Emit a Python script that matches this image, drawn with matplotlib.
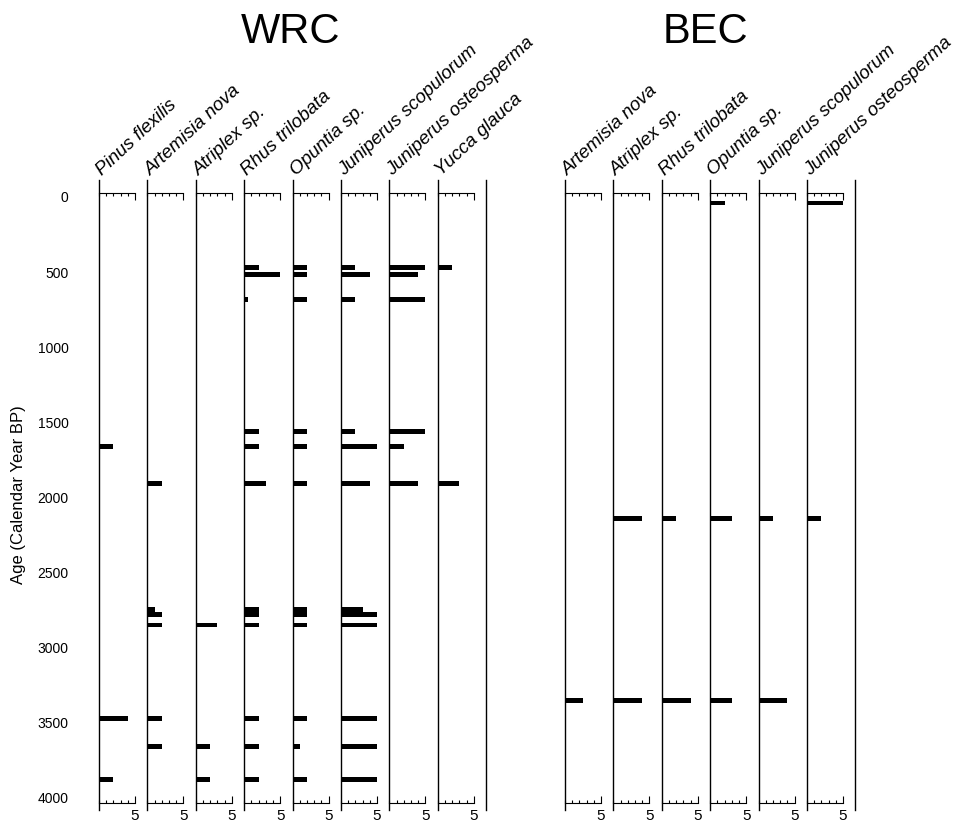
import matplotlib.pyplot as plt

plt.rcParams['font.family'] = ['Liberation Sans', 'DejaVu Sans']

# ---- data: ages (cal yr BP) and abundance for each taxon ----
wrc_taxa = ['Pinus flexilis', 'Artemisia nova', 'Atriplex sp.', 'Rhus trilobata',
            'Opuntia sp.', 'Juniperus scopulorum', 'Juniperus osteosperma', 'Yucca glauca']
wrc_ages = [
    [1660, 3470, 3880],
    [1910, 2745, 2778, 2850, 3470, 3660],
    [2850, 3660, 3880],
    [470, 515, 680, 1560, 1660, 1910, 2745, 2778, 2850, 3470, 3660, 3880],
    [470, 515, 680, 1560, 1660, 1910, 2745, 2778, 2850, 3470, 3660, 3880],
    [470, 515, 680, 1560, 1660, 1910, 2745, 2778, 2850, 3470, 3660, 3880],
    [470, 515, 680, 1560, 1660, 1910],
    [470, 1910],
]
wrc_counts = [
    [2, 4, 2],
    [2, 1, 2, 2, 2, 2],
    [3, 2, 2],
    [2, 5, 0.5, 2, 2, 3, 2, 2, 2, 2, 2, 2],
    [2, 2, 2, 2, 2, 2, 2, 2, 2, 2, 1, 2],
    [2, 4, 2, 2, 5, 4, 3, 5, 5, 5, 5, 5],
    [5, 4, 5, 5, 2, 4],
    [2, 3],
]

bec_taxa = ['Artemisia nova', 'Atriplex sp.', 'Rhus trilobata', 'Opuntia sp.',
            'Juniperus scopulorum', 'Juniperus osteosperma']
bec_ages = [
    [3350],
    [2140, 3350],
    [2140, 3350],
    [40, 2140, 3350],
    [2140, 3350],
    [40, 2140],
]
bec_counts = [
    [2.5],
    [4, 4],
    [2, 4],
    [2, 3, 3],
    [2, 4],
    [5, 2],
]

age_ticks = [0, 500, 1000, 1500, 2000, 2500, 3000, 3500, 4000]

# ---- layout (pixels of a 977x832 figure) ----
W, H = 977, 832
fig = plt.figure(figsize=(W / 100, H / 100), dpi=100)

panel_w = 48.4
px_per_unit = 7.2
top_px, bot_px = 180, 810
y_top, y_bot = -113, 4081


def draw_group(left_px, taxa, ages, counts, title, title_x, show_y):
    n = len(taxa)
    for i in range(n):
        x0 = left_px + i * panel_w
        ax = fig.add_axes([x0 / W, (H - bot_px) / H, panel_w / W, (bot_px - top_px) / H])
        ax.barh(ages[i], counts[i], height=32, left=0, color='black')
        ax.set_xlim(0, panel_w / px_per_unit)
        ax.set_ylim(y_bot, y_top)
        ax.patch.set_alpha(0)

        ax.spines['left'].set_linewidth(1.0)
        ax.spines['right'].set_visible(i == n - 1)
        ax.spines['right'].set_linewidth(1.0)
        for side, pos in (('top', -28), ('bottom', 4035)):
            ax.spines[side].set_position(('data', pos))
            ax.spines[side].set_bounds(0, 5)
            ax.spines[side].set_linewidth(0.8)

        ax.set_xticks([5])
        ax.set_xticks([0, 1, 2, 3, 4], minor=True)
        ax.tick_params(axis='x', which='both', direction='in', top=True, bottom=True,
                       labeltop=False, width=0.8, labelsize=11, pad=4)
        ax.tick_params(axis='x', which='major', length=5)
        ax.tick_params(axis='x', which='minor', length=2.5)

        if show_y and i == 0:
            ax.set_yticks(age_ticks)
            ax.tick_params(axis='y', length=0, pad=22, labelsize=10)
            ax.set_ylabel('Age (Calendar Year BP)', fontsize=12, labelpad=8)
        else:
            ax.set_yticks([])

        fig.text((x0 + 6) / W, (H - 179) / H, taxa[i], rotation=43, style='italic',
                 fontsize=13.5, ha='left', va='bottom', rotation_mode='anchor')

    fig.text(title_x / W, (H - 32) / H, title, fontsize=30, ha='center', va='center')


draw_group(99, wrc_taxa, wrc_ages, wrc_counts, 'WRC', 291, True)
draw_group(565, bec_taxa, bec_ages, bec_counts, 'BEC', 705, False)

fig.savefig('out.png', dpi=100)
